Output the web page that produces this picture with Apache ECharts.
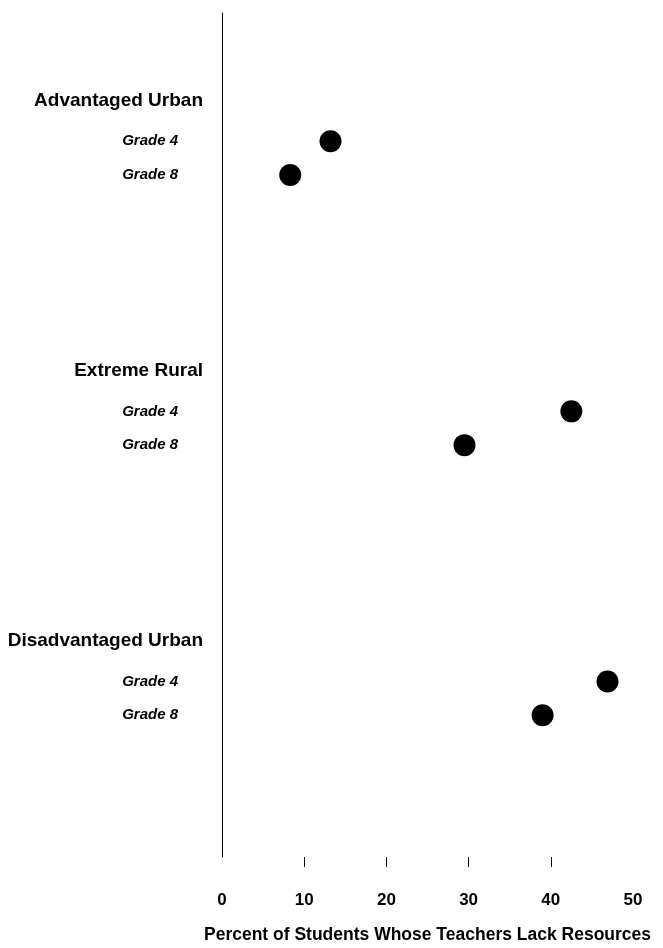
<!DOCTYPE html>
<html>
<head>
<meta charset="utf-8">
<script src="https://cdn.jsdelivr.net/npm/echarts@6/dist/echarts.min.js"></script>
<style>html,body{margin:0;padding:0;background:#fff;}#c{width:663px;height:948px;}</style>
</head>
<body>
<div id="c"></div>
<script>
// ---- data ----
const groups = ['Advantaged Urban', 'Extreme Rural', 'Disadvantaged Urban'];
const grades = ['Grade 4', 'Grade 8'];
const grade4 = [13.2, 42.5, 46.9];
const grade8 = [8.3, 29.5, 39.0];
const xTicks = [0, 10, 20, 30, 40, 50];
const xTitle = 'Percent of Students Whose Teachers Lack Resources';

// ---- layout of the category (row) axis ----
const LEAD = 13, PERIOD = 40, OFF_HEADER = 0, OFF_G4 = 6, OFF_G8 = 11, TOTAL = 126;
const cats = new Array(TOTAL).fill('');
const kinds = new Array(TOTAL).fill('');
const rowOf = { g4: [], g8: [] };
groups.forEach((g, i) => {
  const b = LEAD + i * PERIOD;
  cats[b + OFF_HEADER] = g; kinds[b + OFF_HEADER] = 'h';
  cats[b + OFF_G4] = grades[0]; kinds[b + OFF_G4] = 'g';
  cats[b + OFF_G8] = grades[1]; kinds[b + OFF_G8] = 'g';
  rowOf.g4.push(b + OFF_G4);
  rowOf.g8.push(b + OFF_G8);
});
const points = [];
groups.forEach((g, i) => {
  points.push([grade4[i], rowOf.g4[i]]);
  points.push([grade8[i], rowOf.g8[i]]);
});

const FONT = 'Liberation Sans, Arial, sans-serif';
const chart = echarts.init(document.getElementById('c'), null, { renderer: 'canvas' });
chart.setOption({
  backgroundColor: '#fff',
  animation: false,
  textStyle: { fontFamily: FONT, color: '#000' },
  grid: { left: 222, right: 30, top: 13, bottom: 91, containLabel: false, outerBoundsMode: 'none' },
  xAxis: {
    type: 'value',
    min: xTicks[0], max: xTicks[xTicks.length - 1], interval: 10,
    axisLine: { show: false },
    splitLine: { show: false },
    axisTick: { show: true, customValues: xTicks.slice(1, -1), length: 10, lineStyle: { color: '#000', width: 1 } },
    axisLabel: { customValues: xTicks, color: '#000', fontSize: 17, fontWeight: 'bold', margin: 35, fontFamily: FONT },
    name: xTitle, nameLocation: 'middle', nameGap: 69,
    nameTextStyle: { color: '#000', fontSize: 17.5, fontWeight: 'bold', fontFamily: FONT }
  },
  yAxis: {
    type: 'category',
    data: cats,
    inverse: true,
    boundaryGap: false,
    axisLine: { show: true, lineStyle: { color: '#000', width: 1 } },
    axisTick: { show: false },
    splitLine: { show: false },
    axisLabel: {
      interval: 0,
      margin: 19,
      formatter: (v, idx) => kinds[idx] === 'h' ? '{h|' + v + '}' : (kinds[idx] === 'g' ? '{g|' + v + '}' : ''),
      rich: {
        h: { fontSize: 19, fontWeight: 'bold', color: '#000', fontFamily: FONT },
        g: { fontSize: 15, fontStyle: 'italic', fontWeight: 'bold', color: '#000', padding: [0, 25, 0, 0], fontFamily: FONT }
      }
    }
  },
  series: [{
    type: 'scatter',
    data: points,
    symbol: 'circle',
    symbolSize: 22,
    itemStyle: { color: '#000', opacity: 1 }
  }]
});
</script>
</body>
</html>
